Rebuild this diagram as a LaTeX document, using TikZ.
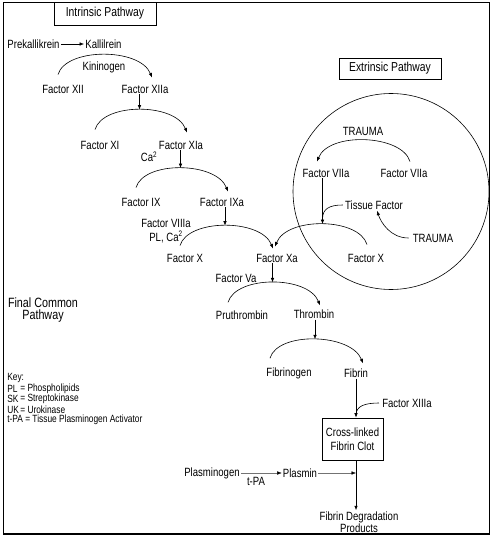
\documentclass[tikz,border=0pt]{standalone}
\usepackage{fontspec}
\setmainfont{Liberation Sans}[FakeStretch=0.8]
\usetikzlibrary{arrows.meta}
\begin{document}
\begin{tikzpicture}[x=1bp,y=-1bp,line width=0.6pt,>={Latex[length=4.5bp,width=3.5bp]},
  every node/.style={font=\fontsize{12}{14}\selectfont,inner sep=1pt},
  title/.style={draw,font=\fontsize{13}{15}\selectfont,minimum width=102bp},
  key/.style={anchor=west,font=\fontsize{10.5}{12}\selectfont},
  thin line/.style={line width=0.4pt,draw=black!55,-{Latex[black,length=4.5bp,width=3.5bp]}}]
\useasboundingbox (0,0) rectangle (492,538);
\draw (3,2.5) rectangle (489.5,533.5);
\draw[line width=1.2pt] (489.5,2.5)--(489.5,534)--(3,534);
% titles
\node[title,minimum height=23bp] (intr) at (105,13.5) {Intrinsic Pathway};
\node[title,minimum height=21bp] (extr) at (390,68.5) {Extrinsic Pathway};
\node[font=\fontsize{13.5}{12}\selectfont,align=center] (fcp) at (43,310) {Final Common\\Pathway};
% intrinsic pathway
\node (pk) at (33.5,44) {Prekallikrein};
\node (kal) at (103.5,44) {Kallilrein};
\draw[->] (pk) -- (kal);
\node (kin) at (104,67) {Kininogen};
\node (f12) at (63,89) {Factor XII};
\node (f12a) at (145,89) {Factor XIIa};
\draw[->] ([shift={(-5,-9)}]f12.north) .. controls +(8,-27) and +(-12,-30) .. ([shift={(7,-6)}]f12a.north);
\node (f11) at (100,145) {Factor XI};
\node (f11a) at (181,145) {Factor XIa};
\draw[->] ([shift={(-5,-10)}]f11.north) .. controls +(8,-27) and +(-12,-30) .. ([shift={(6,-7)}]f11a.north) coordinate[pos=0.5] (p2);
\draw[->] (p2 |- f12a.south) -- (p2);
\node (ca) at (149,157) {Ca\textsuperscript{2}};
\node (f9) at (141,202) {Factor IX};
\node (f9a) at (222,202) {Factor IXa};
\draw[->] ([shift={(-5,-9)}]f9.north) .. controls +(8,-27) and +(-12,-30) .. ([shift={(6,-5)}]f9a.north) coordinate[pos=0.5] (p3);
\draw[->] (p3 |- f11a.south) -- (p3);
\node (f8a) at (166,223) {Factor VIIIa};
\node (plca) at (166,237) {PL, Ca\textsuperscript{2}};
\node (f10) at (185,258) {Factor X};
\node (f10a) at (277,258) {Factor Xa};
\draw[->] ([shift={(-5,-7)}]f10.north) .. controls +(8,-27) and +(-12,-30) .. ([shift={(-4,-4)}]f10a.north) coordinate[pos=0.5] (p4);
\draw[->] (p4 |- f9a.south) -- (p4);
% final common pathway
\node (f5a) at (236,278) {Factor Va};
\node (pth) at (242,315) {Pruthrombin};
\node (thr) at (314,314) {Thrombin};
\draw[->] ([shift={(-14,-7)}]pth.north) .. controls +(8,-27) and +(-12,-30) .. ([shift={(6,-3)}]thr.north) coordinate[pos=0.5] (p5);
\draw[->] (p5 |- f10a.south) -- (p5);
\node (fbg) at (289,373) {Fibrinogen};
\node (fib) at (356,373) {Fibrin};
\draw[->] ([shift={(-19,-8)}]fbg.north) .. controls +(8,-27) and +(-12,-30) .. ([shift={(7,-4)}]fib.north) coordinate[pos=0.5] (p6);
\draw[->] (p6 |- thr.south) -- (p6);
\node (f13a) at (407,403) {Factor XIIIa};
\node[draw,align=center,font=\fontsize{12}{14}\selectfont,minimum width=61bp,minimum height=42bp] (clot) at (352.5,439) {Cross-linked\\Fibrin Clot};
\draw[->] (fib.south) -- (fib.south |- clot.north);
\draw ([xshift=-2bp]f13a.west) .. controls +(-14,0) and +(0,-9) .. ([yshift=-12bp]fib.south |- f13a.west);
\node (plg) at (212,473) {Plasminogen};
\node (pls) at (300,473) {Plasmin};
\node (tpa) at (256,481) {t-PA};
\draw[thin line] (plg) -- (pls);
\draw[thin line] (pls) -- (pls -| fib.south);
\node[align=center,font=\fontsize{12}{11}\selectfont] (fdp) at (359,522) {Fibrin Degradation\\Products};
\draw[->] (fib.south |- clot.south) -- (fib.south |- fdp.north);
% extrinsic pathway
\node[circle,draw,inner sep=0pt,minimum size=196bp] (ext) at (391,191.5) {};
\node (trt) at (363,131) {TRAUMA};
\node (f7l) at (326,173) {Factor VIIa};
\node (f7r) at (404,173) {Factor VIIa};
\draw[->] ([shift={(6,-6)}]f7r.north) .. controls +(-8,-27) and +(12,-30) .. ([shift={(-9,-6)}]f7l.north);
\node (tf) at (374,205) {Tissue Factor};
\node (trb) at (433,238) {TRAUMA};
\node (f10r) at (366,258) {Factor X};
\draw[->] ([shift={(1,-8)}]f10r.north) .. controls +(-8,-27) and +(12,-30) .. ([shift={(-2,-6)}]f10a.north) coordinate[pos=0.5] (p7);
\draw[->] (p7 |- f7l.south) -- (p7);
\draw ([xshift=-1bp]tf.west) .. controls +(-14,0) and +(0,-10) .. ([yshift=-14bp]p7 |- tf.west);
\draw[->] ([xshift=-3bp]trb.west) .. controls +(-18,0) and +(4,12) .. ([xshift=3bp]tf.south);
% key
\node[key] (key) at (6,378) {Key:};
\foreach \ab/\nm [count=\i] in {PL/Phospholipids,SK/Streptokinase,UK/Urokinase}
{ \node[key] (k\i) at (6,378+10.5*\i) {\ab};
  \node[key] (kd\i) at (19,378+10.5*\i) {= \nm};
}
\node[key] (ktpa) at (6,420) {t-PA = Tissue Plasminogen Activator};
\end{tikzpicture}
\end{document}
